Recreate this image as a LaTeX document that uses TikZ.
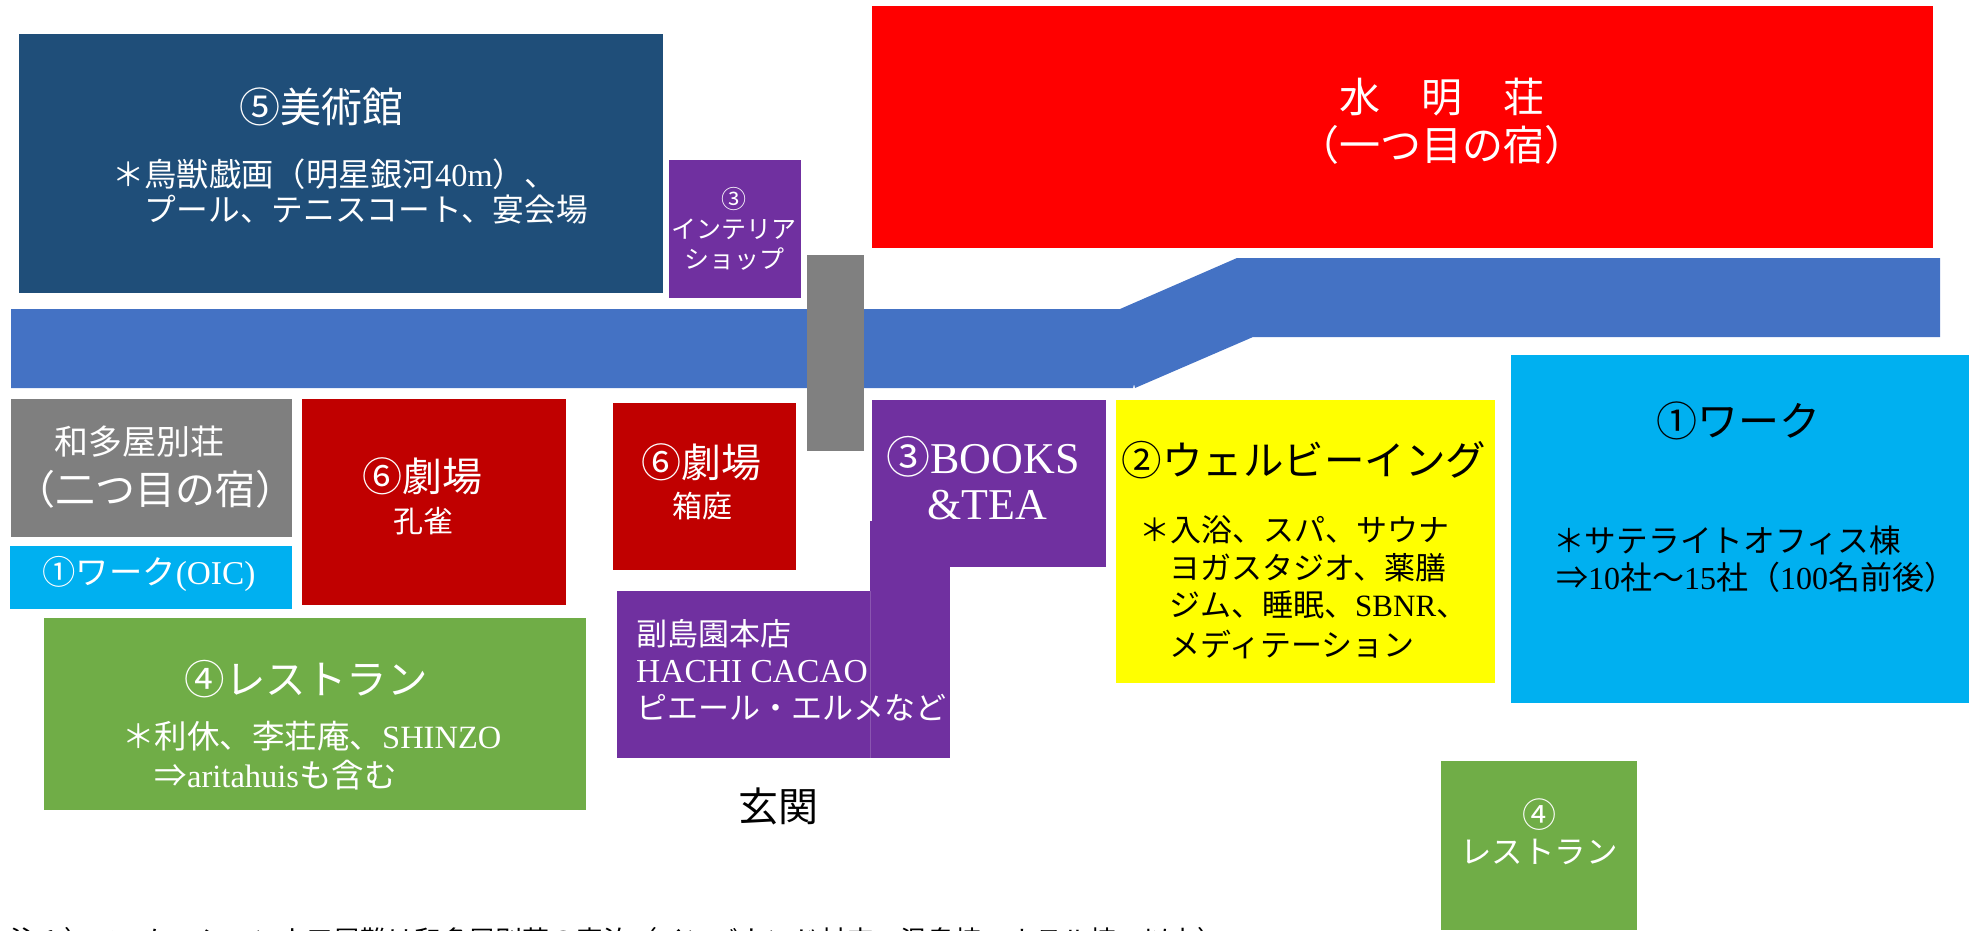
\documentclass[tikz,border=0pt]{standalone}
\usepackage{fontspec}
\setmainfont{Liberation Serif}
\newfontfamily\cjk{Noto Sans CJK JP}
\newcommand{\J}[1]{{\cjk #1}}
\newcommand{\fs}[1]{\fontsize{#1}{#1}\selectfont}
\tikzset{
 wt/.style={text=white,inner sep=0pt,font=\fs{#1}},
 bk/.style={text=black,inner sep=0pt,font=\fs{#1}},
 wl/.style={wt=#1,anchor=west},
 bl/.style={bk=#1,anchor=west},
}
\definecolor{navy}{HTML}{1F4E79}
\definecolor{rred}{HTML}{FF0000}
\definecolor{drd}{HTML}{C00000}
\definecolor{pur}{HTML}{7030A0}
\definecolor{seam}{HTML}{8A55B0}
\definecolor{riv}{HTML}{4472C4}
\definecolor{gry}{HTML}{808080}
\definecolor{tbox}{HTML}{7F7F7F}
\definecolor{yel}{HTML}{FFFF00}
\definecolor{cya}{HTML}{00B0F0}
\definecolor{grn}{HTML}{70AD47}
\begin{document}
\begin{tikzpicture}[x=1pt,y=-1pt]
\useasboundingbox (0,0) rectangle (1973,930);
\clip (0,0) rectangle (1973,930);
% river
\fill[riv] (11,309) -- (1120,309) -- (1237,258) -- (1940,258) -- (1940,337) -- (1253,337) -- (1135,388) -- (1134,384) -- (1133,388) -- (11,388) -- cycle;
% rooms
\fill[navy] (19,34) rectangle (663,293);
\fill[rred] (872,6) rectangle (1933,248);
\fill[pur] (669,160) rectangle (801,298);
\fill[gry] (807,255) rectangle (864,451);
\fill[tbox] (11,399) rectangle (292,537);
\fill[cya] (10,546) rectangle (292,609);
\fill[drd] (302,399) rectangle (566,605);
\fill[drd] (613,403) rectangle (796,570);
\fill[pur] (872,400) rectangle (1106,567);
\fill[pur] (870,521) rectangle (950,758);
\fill[pur] (617,591) rectangle (870,758);
\draw[seam,line width=0.6pt] (870,591) -- (870,758);
\fill[yel] (1116,400) rectangle (1495,683);
\fill[cya] (1511,355) rectangle (1969,703);
\fill[grn] (44,618) rectangle (586,810);
\fill[grn] (1441,761) rectangle (1637,930);
% labels
\node[wt=41] (bij) at (321,107) {\J{⑤美術館}};
\node[wl=32.3] (bijA) at (112,174) {\J{＊鳥獣戯画（明星銀河}40m\J{）、}};
\node[wl=31.7] (bijB) at (113,210) {\J{　プール、テニスコート、宴会場}};
\node[wt=41] (sui) at (1442,97) {\J{水　明　荘}};
\node[wt=41] (suiB) at (1442,145) {\J{（一つ目の宿）}};
\node[wt=25] (intA) at (734,199) {\J{③}};
\node[wt=25] (intB) at (734,229) {\J{インテリア}};
\node[wt=25] (intC) at (734,259) {\J{ショップ}};
\node[wt=34] (wat) at (139,442) {\J{和多屋別荘}};
\node[wt=40] (watB) at (156,489) {\J{（二つ目の宿）}};
\node[wt=33.3] (oic) at (149,574) {\J{①ワーク}(OIC)};
\node[wt=40] (kou) at (422,476) {\J{⑥劇場}};
\node[wt=30] (kouB) at (423,521) {\J{孔雀}};
\node[wt=40] (hak) at (701,462) {\J{⑥劇場}};
\node[wt=30] (hakB) at (702,506) {\J{箱庭}};
\node[wt=44] (boo) at (983,457) {\J{③}BOOKS};
\node[wt=44] (booB) at (987,505) {\&TEA};
\node[wl=31] (fuk) at (636,634) {\J{副島園本店}};
\node[wl=33.5] (fukB) at (636,672) {HACHI CACAO};
\node[wl=31] (fukC) at (636,708) {\J{ピエール・エルメなど}};
\node[bk=40.5] (wel) at (1304,460) {\J{②ウェルビーイング}};
\node[bl=31] (welA) at (1139,530) {\J{＊入浴、スパ、サウナ}};
\node[bl=31] (welB) at (1138,567.5) {\J{　ヨガスタジオ、薬膳}};
\node[bl=31] (welC) at (1138,605) {\J{　ジム、睡眠、}SBNR\J{、}};
\node[bl=31] (welD) at (1138,644) {\J{　メディテーション}};
\node[bk=41] (wor) at (1738,421) {\J{①ワーク}};
\node[bl=31.7] (worA) at (1553,540) {\J{＊サテライトオフィス棟}};
\node[bl=32] (worB) at (1556,577.5) {\J{⇒}10\J{社〜}15\J{社（}100\J{名前後）}};
\node[wt=40.5] (res) at (306,679) {\J{④レストラン}};
\node[wl=32.5] (resA) at (122,736) {\J{＊利休、李荘庵、}SHINZO};
\node[wl=32.5] (resB) at (122,775) {\J{　⇒}aritahuis\J{も含む}};
\node[bk=40] (gen) at (778,806) {\J{玄関}};
\node[wt=34] (rthA) at (1539,815) {\J{④}};
\node[wt=31.5] (rthB) at (1539,852) {\J{レストラン}};
\node[bl=27] (note) at (10,940) {\J{注１）ワーケーション人口層難は和多屋別荘の宿泊（インバウンド対応・温泉棟、ホテル棟}57\J{以上）}};
\end{tikzpicture}
\end{document}
